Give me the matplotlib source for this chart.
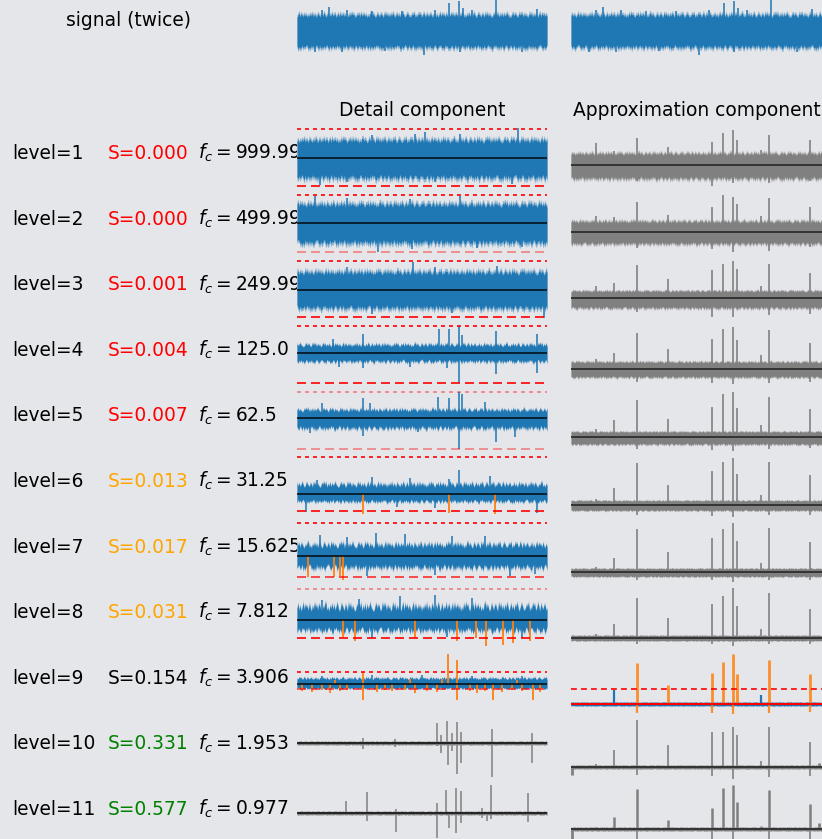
import numpy as np
import matplotlib
matplotlib.use("Agg")
import matplotlib.pyplot as plt

W, H = 822, 839
BG = "#e5e6e9"
BLUE = "#1f77b4"
ORANGE = "#ff7f0e"
GREY = "#808080"
FS = 13.4

levels = list(range(1, 12))
S_values = [0.000, 0.000, 0.001, 0.004, 0.007, 0.013, 0.017, 0.031, 0.154, 0.331, 0.577]
S_colors = ["red"] * 5 + ["orange"] * 3 + ["black"] + ["green"] * 2
fc_labels = ["999.99", "499.99", "249.99", "125.0", "62.5", "31.25",
             "15.625", "7.812", "3.906", "1.953", "0.977"]

# roughness of the band edges (0..9)
edge_digits = ("5273916408531729604815392670481935726041839572064819357260418"
               "9374028516730948261739504826175930486213759042867139508426713"
               "3816049275518306294717620538914063827159402863175094826301759"
               "4906281735942016837502948617350294816273059184726305918427360")
edge = np.array([int(c) for c in edge_digits]) / 9.0

# raw signal: band half widths and spikes (x, amplitude)
signal_band = (18, 18)
signal_spikes = [(0.128, 24), (0.608, 28), (0.648, 30), (0.795, 31), (0.664, 23),
                 (0.959, 22), (0.10, 21), (0.20, 21), (0.30, 20), (0.55, 21),
                 (0.70, 21), (0.42, 20), (0.508, -24), (0.072, -21), (0.18, -21),
                 (0.65, -21), (0.90, -21), (0.35, -20)]

# detail coefficients
detail_band_up = [20, 21, 20, 10, 10, 12, 14, 17, 7, 2, 2]
detail_band_dn = [22, 22, 20, 10, 12, 9, 14, 13, 5, 2, 2]
detail_rough = [0.25, 0.25, 0.25, 0.4, 0.4, 0.45, 0.45, 0.5, 0.4, 0.3, 0.3]
detail_thr_up = [29, 28, 29, 27, 26, 37, 33, 31, 12, None, None]
detail_thr_dn = [28, 29, 27, 30, 31, 17, 21, 18, 5, None, None]
thr_alpha_up = [1, 1, 1, 1, 0.45, 1, 1, 0.45, 1, 1, 1]
thr_alpha_dn = [1, 0.45, 1, 1, 0.45, 1, 0.8, 1, 0.7, 1, 1]
detail_spikes = [
    [(0.512, 26), (0.884, 30), (0.47, 24), (0.30, 23), (0.65, 24),
     (0.092, -27), (0.86, -26), (0.20, -24), (0.55, -24)],
    [(0.072, 27), (0.652, 27), (0.20, 25), (0.45, 24),
     (0.324, -29), (0.46, -26), (0.72, -25), (0.90, -24)],
    [(0.464, 28), (0.20, 23), (0.55, 23), (0.80, 24),
     (0.988, -28), (0.30, -24), (0.62, -23)],
    [(0.263, 19), (0.568, 24), (0.608, 24), (0.648, 27), (0.659, 18), (0.796, 22),
     (0.959, 19), (0.143, 14), (0.263, -15), (0.648, -30), (0.796, -21),
     (0.959, -20), (0.168, -14), (0.45, -14), (0.60, -15)],
    [(0.263, 20), (0.564, 21), (0.608, 20), (0.648, 26), (0.661, 24), (0.29, 15),
     (0.75, 16), (0.10, 15), (0.263, -18), (0.648, -31), (0.796, -24),
     (0.872, -19), (0.484, -14), (0.05, -15)],
    [(0.648, 24), (0.608, 15), (0.079, 14), (0.30, 17), (0.45, 16), (0.77, 18),
     (0.959, -19), (0.034, -18), (0.55, -14), (0.40, -13)],
    [(0.316, 23), (0.092, 21), (0.432, 22), (0.619, 20), (0.75, 20), (0.20, 19),
     (0.28, -20), (0.55, -19), (0.85, -20), (0.95, -18)],
    [(0.552, 25), (0.248, 21), (0.412, 24), (0.10, 20), (0.70, 22),
     (0.30, -18), (0.60, -17), (0.90, -18)],
    [(0.30, 9), (0.50, 9), (0.70, 8), (0.10, 8), (0.90, 8)],
    [(0.265, 5), (0.265, -6), (0.39, 4), (0.39, -4), (0.559, 20), (0.559, -3),
     (0.599, 22), (0.604, -22), (0.639, 21), (0.639, -31), (0.656, 11),
     (0.656, -20), (0.78, 14), (0.78, -34), (0.939, 10), (0.939, -20),
     (0.575, 8), (0.575, -10), (0.62, 10), (0.62, -8)],
    [(0.196, 12), (0.279, 21), (0.279, -8), (0.396, 4), (0.396, -19),
     (0.559, 10), (0.559, -25), (0.596, 23), (0.606, -15), (0.635, 25),
     (0.635, -20), (0.655, 22), (0.655, -10), (0.775, 28), (0.775, -6),
     (0.924, 20), (0.924, -9), (0.739, 5), (0.739, -5), (0.76, -8)],
]
detail_flagged = [
    [], [], [], [], [],
    [(0.263, -20), (0.608, -19), (0.792, -20)],
    [(0.044, -21), (0.148, -21), (0.172, -20), (0.184, -24)],
    [(0.183, -17), (0.232, -21), (0.471, -18), (0.64, -21), (0.715, -18),
     (0.756, -26), (0.824, -25), (0.863, -23), (0.932, -21)],
    [(0.604, 30), (0.64, 24), (0.264, 12), (0.264, -16), (0.64, -16),
     (0.784, -16), (0.944, -16), (0.02, -7), (0.06, -8), (0.10, -6), (0.13, -9),
     (0.17, -7), (0.20, -6), (0.32, -8), (0.35, -6), (0.38, -7), (0.43, -6),
     (0.47, -9), (0.52, -7), (0.56, -8), (0.69, -7), (0.72, -9), (0.75, -7),
     (0.82, -8), (0.86, -6), (0.90, -7), (0.97, -8), (0.15, 4), (0.45, 5),
     (0.58, 5), (0.88, 4)],
    [], [],
]

# approximation coefficients
approx_band_up = [13, 12, 8, 8, 6, 5, 4, 3, 2, 2, 2]
approx_band_dn = [15, 13, 11, 9, 8, 6, 5, 3, 2, 2, 2]
peak_x = [0.098, 0.17, 0.262, 0.386, 0.562, 0.606, 0.645, 0.660, 0.757, 0.789, 0.952]
approx_peaks = [
    [22, 14, 27, 18, 23, 32, 35, 25, 15, 30, 25],
    [16, 15, 30, 17, 25, 37, 35, 28, 16, 34, 25],
    [12, 15, 33, 19, 28, 34, 37, 29, 12, 34, 25],
    [10, 16, 36, 20, 30, 40, 42, 29, 14, 39, 26],
    [8, 17, 37, 18, 30, 43, 45, 29, 12, 40, 28],
    [6, 17, 42, 20, 34, 43, 47, 31, 10, 43, 30],
    [5, 14, 43, 20, 34, 43, 49, 31, 9, 44, 30],
    [4, 14, 40, 20, 34, 42, 50, 32, 9, 45, 29],
    [0, 14, 41, 19, 31, 42, 50, 30, 9, 44, 30],
    [3, 17, 47, 22, 35, 35, 40, 32, 6, 40, 25],
    [2, 12, 40, 9, 21, 41, 44, 27, 3, 39, 25],
]
dip_x = [0.262, 0.562, 0.645, 0.789, 0.952]
approx_dips = [
    [-16, -21, -18, -18, -16],
    [-16, -17, -20, -19, -15],
    [-14, -19, -19, -17, -16],
    [-13, -14, -15, -14, -13],
    [-12, -13, -14, -12, -11],
    [-10, -11, -12, -10, -10],
    [-8, -8, -10, -8, -8],
    [-6, -6, -8, -6, -6],
    [-9, -9, -10, -9, -8],
    [-8, -9, -12, -10, -9],
    [-12, -15, -18, -10, -12],
]
# peaks of level 9 above its threshold line are flagged
approx9_thr = 15
approx_ends = [None] * 9 + [[(0.005, -8), (0.99, 4)], [(0.005, -15), (0.99, 6)]]

# layout (pixels)
detail_cols = (297, 547)
approx_cols = (571, 822)
signal_zero = 31
detail_zero = [158, 223, 290, 353, 418, 494, 556, 620, 684, 743, 813]
approx_zero = [165, 232, 298, 369, 437, 505, 572, 638, 704, 767, 829]
row_base = [159 + 65.6 * i for i in range(11)]

fig = plt.figure(figsize=(W / 100, H / 100), dpi=100, facecolor=BG)


def panel(cols, zero, half=70):
    x0, x1 = cols
    ax = fig.add_axes([x0 / W, 1 - (zero + half) / H, (x1 - x0) / W, 2 * half / H])
    ax.set_xlim(0, 1)
    ax.set_ylim(-half, half)
    ax.axis("off")
    ax.patch.set_alpha(0)
    return ax


def band(ax, up, dn, color, shift, rough=0.25):
    x = np.linspace(0, 1, len(edge))
    top = up * (1 - rough + rough * np.roll(edge, shift))
    bot = -dn * (1 - rough + rough * np.roll(edge, 3 * shift + 7))
    # soft fringe first, solid core on top
    ax.fill_between(x, bot * 1.15, top * 1.15, color=color, lw=0, alpha=0.45)
    ax.fill_between(x, bot, top, color=color, lw=0)


def spikes(ax, pts, color, lw=1.1, alpha=1.0):
    if not pts:
        return
    xs, ys = zip(*pts)
    ax.vlines(xs, 0, ys, color=color, lw=lw, alpha=alpha)


# raw signal, drawn in both columns
for k, cols in enumerate([detail_cols, approx_cols]):
    ax = panel(cols, signal_zero)
    band(ax, signal_band[0], signal_band[1], BLUE, 11 + 5 * k)
    spikes(ax, signal_spikes, BLUE)

for i in range(11):
    # detail
    ax = panel(detail_cols, detail_zero[i])
    color = BLUE if i < 9 else GREY
    band(ax, detail_band_up[i], detail_band_dn[i], color, 17 * i + 3,
         rough=detail_rough[i])
    spikes(ax, detail_spikes[i], color, lw=1.1 if i < 9 else 1.3,
           alpha=1.0 if i < 9 else 0.85)
    spikes(ax, detail_flagged[i], ORANGE, lw=1.3)
    ax.axhline(0, color="black", lw=1.2, alpha=0.85)
    if detail_thr_up[i] is not None:
        ax.axhline(detail_thr_up[i], color="red", lw=1.2, ls=(0, (2.4, 2.4)),
                   alpha=thr_alpha_up[i])
        ax.axhline(-detail_thr_dn[i], color="red", lw=1.2, ls=(0, (5.4, 3)),
                   alpha=thr_alpha_dn[i])

    # approximation
    ax = panel(approx_cols, approx_zero[i])
    peaks = list(zip(peak_x, approx_peaks[i]))
    dips = list(zip(dip_x, approx_dips[i]))
    if i == 8:
        band(ax, approx_band_up[i], approx_band_dn[i], BLUE, 29)
        spikes(ax, [p for p in peaks if p[1] <= approx9_thr], BLUE, lw=1.6)
        spikes(ax, [p for p in peaks if p[1] > approx9_thr], ORANGE, lw=2.0,
               alpha=0.85)
        spikes(ax, dips, ORANGE, lw=1.6, alpha=0.85)
        ax.axhline(0, color="black", lw=1.2)
        ax.axhline(0, color="red", lw=1.5)
        ax.axhline(approx9_thr, color="red", lw=1.2, ls=(0, (3.5, 2.5)))
    else:
        band(ax, approx_band_up[i], approx_band_dn[i], GREY, 13 * i + 5)
        spikes(ax, peaks, GREY, lw=1.2 if i < 10 else 1.8)
        spikes(ax, dips, GREY, lw=1.2)
        if approx_ends[i]:
            spikes(ax, approx_ends[i], GREY, lw=2.0)
        ax.axhline(0, color="#333333", lw=1.4)

# row labels
tax = fig.add_axes([0, 0, detail_cols[0] / W, 1])
tax.set_xlim(0, detail_cols[0])
tax.set_ylim(H, 0)
tax.axis("off")
tax.patch.set_alpha(0)
tax.text(66, 26.5, "signal (twice)", fontsize=FS, va="baseline")
for i, lev in enumerate(levels):
    y = row_base[i]
    tax.text(12, y, f"level={lev}", fontsize=FS, va="baseline")
    tax.text(108, y, f"S={S_values[i]:.3f}", fontsize=FS, va="baseline",
             color=S_colors[i])
    tax.text(198, y, rf"$f_c = {fc_labels[i]}$", fontsize=FS, va="baseline",
             clip_on=True)

fig.text((detail_cols[0] + detail_cols[1]) / 2 / W, 1 - 116.5 / H,
         "Detail component", fontsize=FS, ha="center", va="baseline")
fig.text((approx_cols[0] + approx_cols[1]) / 2 / W, 1 - 116.5 / H,
         "Approximation component", fontsize=FS, ha="center", va="baseline")

fig.savefig("out.png", dpi=100, facecolor=BG)
